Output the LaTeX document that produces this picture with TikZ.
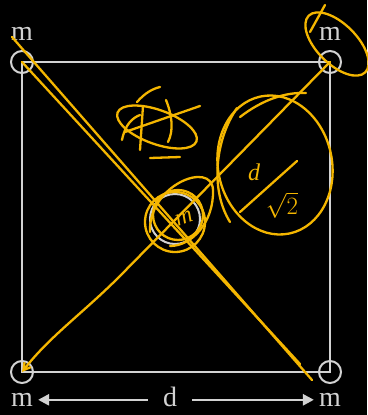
\documentclass[tikz,border=0pt]{standalone}
\usepackage{fontspec}
\setmainfont{Liberation Serif}
\usetikzlibrary{arrows.meta,positioning,calc}
\definecolor{chalk}{HTML}{D2D2D2}
\definecolor{marker}{HTML}{F4B600}
\tikzset{
  mass/.style={draw=chalk, line width=2pt, circle, minimum size=22pt, inner sep=0pt},
  mlabel/.style={text=chalk, font=\fontsize{28}{28}\selectfont, inner sep=0pt},
  ink/.style={draw=marker, line width=2.3pt, line cap=round, line join=round},
  inktext/.style={text=marker, inner sep=0pt, font=\fontsize{24}{24}\selectfont\itshape},
}

\begin{document}
\begin{tikzpicture}[x=1pt,y=-1pt]
  \fill[black] (0,0) rectangle (367,415);
  \useasboundingbox (0,0) rectangle (367,415);

  % masses at the corners and the centre
  \node[mass] (tl) at (22,62) {};
  \node[mass] (tr) at (330,62) {};
  \node[mass] (bl) at (22,372) {};
  \node[mass] (br) at (330,372) {};
  \node[mass, minimum size=50pt] (cm) at (175,219) {};
  \draw[chalk, line width=2.5pt] (tl.center) -- (tr.center) -- (br.center) -- (bl.center) -- cycle;

  % labels
  \node[mlabel, above=9pt of tl] (mtl) {m};
  \node[mlabel, above=9pt of tr] (mtr) {m};
  \node[mlabel, below=9pt of bl] (mbl) {m};
  \node[mlabel, below=9pt of br] (mbr) {m};
  \node[mlabel, anchor=base] (dd) at (170,406) {d};
  \draw[chalk, line width=2.5pt, -{Triangle[length=11pt,width=11pt]}]
    ([xshift=-15pt]dd.west |- mbl.east) -- ([xshift=5pt]mbl.east);
  \draw[chalk, line width=2.5pt, -{Triangle[length=11pt,width=11pt]}]
    ([xshift=15pt]dd.east |- mbr.west) -- ([xshift=-5pt]mbr.west);

  % handwriting on top
  \coordinate (s1) at (12,37);
  \coordinate (e1) at (312,380);
  \coordinate (e2) at (300,364);
  \draw[ink] (s1) -- (e1);
  \draw[ink] (tl.center) -- (e2);
  \draw[ink, -{Straight Barb[length=7pt,width=8pt]}]
    (tr.center) -- (120,276) .. controls (82,314) and (50,336) .. (bl.center);

  % ring round the top right mass
  \draw[ink, rotate around={-45:(337,44)}] (337,44) ellipse (40 and 20);
  \draw[ink] (325,5) -- (310,32);

  % centre
  \draw[ink] (175,222) circle (30);
  \draw[ink] (178,215) circle (25);
  \draw[ink] (150,232) .. controls (148,185) and (212,160) .. (213,190)
    .. controls (214,222) and (192,246) .. (170,246);
  \node[inktext, rotate=20] (mc) at (184,218) {m};

  % d over root 2
  \draw[ink, rotate around={12:(275,165)}] (275,165) ellipse (57 and 70);
  \draw[ink] (240,117) .. controls (262,100) and (285,92) .. (306,93);
  \draw[ink] (237,108) .. controls (215,140) and (210,190) .. (230,222);
  \node[inktext] (num) at (254,172) {d};
  \draw[ink] (240,212) -- (297,161);
  \node[inktext] (den) at (282,205) {$\sqrt{2}$};

  % small ring with scribbles
  \draw[ink, rotate around={-20:(157,127)}] (157,127) ellipse (42 and 17);
  \draw[ink] (137,102) .. controls (145,93) and (152,89) .. (160,87);
  \draw[ink] (143,106) -- (140,150);
  \draw[ink] (166,100) .. controls (172,115) and (174,130) .. (168,142);
  \draw[ink] (125,132) -- (200,106);
  \draw[ink] (150,158) -- (180,157);
  \draw[ink] (122,140) .. controls (125,125) and (132,118) .. (140,115);
\end{tikzpicture}
\end{document}
